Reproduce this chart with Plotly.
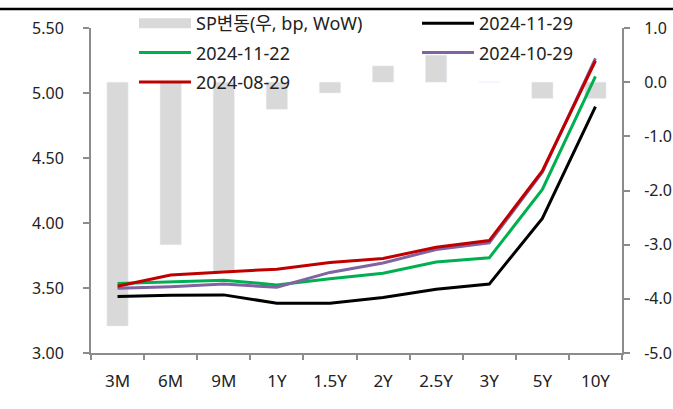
import plotly.graph_objects as go

categories = ["3M", "6M", "9M", "1Y", "1.5Y", "2Y", "2.5Y", "3Y", "5Y", "10Y"]
sp_change = [-4.5, -3.0, -3.5, -0.5, -0.2, 0.3, 0.5, 0.0, -0.3, -0.3]
y_20241129 = [3.435, 3.445, 3.447, 3.383, 3.382, 3.427, 3.49, 3.53, 4.035, 4.895]
y_20241122 = [3.535, 3.55, 3.56, 3.524, 3.572, 3.614, 3.70, 3.732, 4.258, 5.128]
y_20241029 = [3.498, 3.51, 3.53, 3.506, 3.62, 3.693, 3.796, 3.847, 4.39, 5.267]
y_20240829 = [3.513, 3.60, 3.624, 3.645, 3.696, 3.727, 3.814, 3.865, 4.40, 5.248]
right_ticks = [1, 0, -1, -2, -3, -4, -5]
right_labels = ["1.0", "0.0", "-1.0", "-2.0", "-3.0", "-4.0", "-5.0"]

FONT = "Noto Sans, Noto Sans CJK KR, sans-serif"
TXT = "#222222"
AX = "#8c8c8c"
W, H = 673, 409
ML, MR, MT, MB = 91, 51, 28, 56
PW, PH = W - ML - MR, H - MT - MB

fig = go.Figure()

# bars (right axis = primary y so lines overlay above)
fig.add_trace(go.Bar(x=categories, y=sp_change, marker_color="#d9d9d9",
                     yaxis="y", showlegend=False, name="SP변동(우, bp, WoW)"))
# legend proxy for the bar series
fig.add_trace(go.Scatter(x=[None], y=[None], mode="lines", name="SP변동(우, bp, WoW)",
                         line=dict(color="#d9d9d9", width=11), yaxis="y2",
                         legend="legend", legendgroup="a"))

lines = [
    ("2024-11-29", y_20241129, "#000000", "legend2", "b"),
    ("2024-11-22", y_20241122, "#00b050", "legend", "c"),
    ("2024-10-29", y_20241029, "#8064a2", "legend2", "d"),
    ("2024-08-29", y_20240829, "#c00000", "legend", "e"),
]
for name, ys, col, lg, grp in lines:
    fig.add_trace(go.Scatter(x=categories, y=ys, mode="lines", name=name,
                             line=dict(color=col, width=3), yaxis="y2",
                             legend=lg, legendgroup=grp))

def px_x(p):
    return (p - ML) / PW

def px_y(p):
    return (H - MB - p) / PH

legend_common = dict(font=dict(family=FONT, size=18, color=TXT),
                     bgcolor="rgba(0,0,0,0)", orientation="v",
                     xanchor="left", yanchor="top", itemwidth=52,
                     tracegroupgap=3, traceorder="grouped")

fig.update_layout(
    width=W, height=H,
    margin=dict(l=ML, r=MR, t=MT, b=MB, pad=0, autoexpand=False),
    paper_bgcolor="white", plot_bgcolor="white",
    font=dict(family=FONT, color=TXT),
    bargap=0.6,
    xaxis=dict(type="category", showline=True, linecolor=AX, linewidth=2,
               ticks="outside", tickson="boundaries", ticklen=5, tickcolor=AX, tickwidth=2,
               tickfont=dict(size=17, color=TXT), showgrid=False, zeroline=False,
               ticklabelstandoff=12),
    yaxis=dict(side="right", range=[-5, 1], tickvals=right_ticks, ticktext=right_labels,
               showline=True, linecolor=AX, linewidth=2, ticks="outside", ticklen=6,
               tickcolor=AX, tickwidth=2, tickfont=dict(size=16, color=TXT),
               showgrid=False, zeroline=False, ticklabelstandoff=11),
    yaxis2=dict(side="left", overlaying="y", range=[3, 5.5], dtick=0.5, tickformat=".2f",
                showline=True, linecolor=AX, linewidth=2, ticks="outside", ticklen=6,
                tickcolor=AX, tickwidth=2, tickfont=dict(size=16, color=TXT),
                showgrid=False, zeroline=False, ticklabelstandoff=16),
    legend=dict(x=px_x(134), y=px_y(5), **legend_common),
    legend2=dict(x=px_x(417), y=px_y(5), **legend_common),
    shapes=[dict(type="line", xref="paper", yref="paper", layer="above",
                 x0=px_x(0), x1=px_x(W), y0=px_y(9), y1=px_y(9),
                 line=dict(color="#000000", width=2.5))],
)

fig.write_html("out.html", config={"displayModeBar": False},
               post_script="document.body.style.margin='0px';")
